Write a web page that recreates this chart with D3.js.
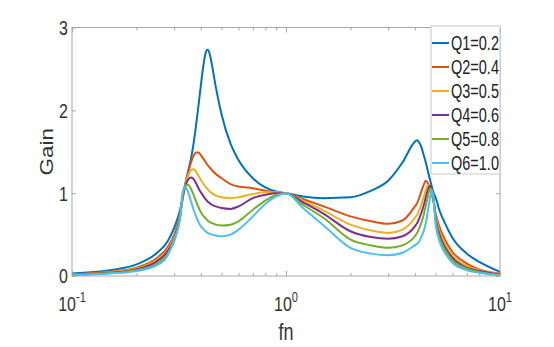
<!DOCTYPE html>
<html><head><meta charset="utf-8">
<script src="https://cdn.jsdelivr.net/npm/d3@7"></script>
<style>body{margin:0;background:#fff}text{font-family:"Liberation Sans",Arial,sans-serif}</style>
</head><body><svg id="c" width="554" height="347"></svg>
<script>
const fn = [0.1,0.15,0.2,0.25,0.28,0.3,0.32,0.33,0.34,0.35,0.36,0.37,0.38,0.39,0.4,0.41,0.42,0.43,0.44,0.45,0.47,0.5,0.55,0.6,0.7,0.8,0.9,1,1.2,1.5,2,2.5,3,3.5,4,4.1,4.2,4.3,4.4,4.5,4.6,4.7,4.8,4.9,5,5.2,5.5,6,7,8,10];
const q1 = [0.03,0.07,0.14,0.28,0.42,0.58,0.80,0.97,1.14,1.28,1.42,1.60,1.82,2.06,2.30,2.52,2.68,2.73,2.68,2.56,2.28,1.95,1.60,1.40,1.18,1.07,1.02,1.00,0.96,0.94,0.95,1.03,1.15,1.37,1.62,1.64,1.61,1.55,1.46,1.37,1.27,1.17,1.08,1.00,0.95,0.80,0.65,0.46,0.27,0.17,0.05];
const q2 = [0.02,0.05,0.10,0.22,0.35,0.50,0.75,0.95,1.12,1.26,1.37,1.45,1.49,1.49,1.46,1.42,1.38,1.34,1.31,1.28,1.23,1.18,1.11,1.08,1.06,1.03,1.01,1.00,0.93,0.84,0.72,0.66,0.63,0.67,0.84,0.88,0.95,1.03,1.10,1.15,1.12,1.05,0.98,0.88,0.76,0.60,0.45,0.29,0.15,0.08,0.03];
const q3 = [0.02,0.045,0.09,0.20,0.32,0.47,0.73,0.96,1.12,1.22,1.28,1.29,1.26,1.21,1.16,1.12,1.08,1.05,1.02,1.00,0.97,0.95,0.94,0.95,0.99,1.01,1.01,1.00,0.91,0.79,0.62,0.55,0.52,0.56,0.70,0.74,0.80,0.87,0.95,1.04,1.10,1.08,1.01,0.90,0.73,0.55,0.40,0.25,0.12,0.07,0.025];
const q4 = [0.015,0.04,0.08,0.18,0.30,0.45,0.72,0.98,1.10,1.17,1.19,1.17,1.12,1.06,1.01,0.97,0.93,0.90,0.88,0.86,0.84,0.82,0.81,0.84,0.94,0.98,1.00,1.00,0.89,0.75,0.54,0.47,0.45,0.48,0.60,0.64,0.70,0.77,0.85,0.95,1.04,1.09,1.04,0.91,0.70,0.51,0.36,0.22,0.10,0.06,0.02];
const q5 = [0.012,0.035,0.07,0.15,0.27,0.42,0.71,1.00,1.10,1.10,1.05,0.98,0.90,0.83,0.77,0.73,0.70,0.67,0.65,0.64,0.62,0.61,0.62,0.66,0.80,0.91,0.98,1.00,0.86,0.70,0.44,0.37,0.34,0.37,0.48,0.52,0.58,0.65,0.74,0.85,0.96,1.05,1.05,0.92,0.67,0.47,0.33,0.19,0.09,0.05,0.015];
const q6 = [0.01,0.03,0.06,0.13,0.25,0.44,0.70,1.03,1.07,1.00,0.90,0.80,0.72,0.65,0.60,0.57,0.54,0.52,0.51,0.50,0.49,0.48,0.50,0.56,0.72,0.87,0.96,1.00,0.82,0.61,0.34,0.27,0.25,0.28,0.37,0.39,0.42,0.48,0.54,0.64,0.78,0.93,1.03,0.93,0.63,0.43,0.29,0.16,0.07,0.04,0.01];
const seriesNames = ["Q1=0.2","Q2=0.4","Q3=0.5","Q4=0.6","Q5=0.8","Q6=1.0"];
const seriesValues = [q1,q2,q3,q4,q5,q6];
const colors = ["#0072BD","#D95319","#EDB120","#7E2F8E","#77AC30","#4DBEEE"];
const yTicks = [0,1,2,3];
const xTicks = [0.1,1,10];
const xTickExp = ["-1","0","1"];
const xMinor = [0.2,0.3,0.4,0.5,0.6,0.7,0.8,0.9,2,3,4,5,6,7,8,9];
const xLabel = "fn", yLabel = "Gain";

const svg = d3.select("#c");
const L=72, R=500, T=27.5, B=276;
const x = d3.scaleLog().domain([0.1,10]).range([L,R]);
const y = d3.scaleLinear().domain([0,3]).range([B,T]);
const axisCol = "#a8a8a8", txtCol = "#333";
const S = 1.3; // vertical text stretch

svg.append("defs").append("clipPath").attr("id","pc").append("rect")
  .attr("x",L).attr("y",T).attr("width",R-L).attr("height",B-T);

function styleAxis(g){ g.select(".domain").remove(); g.selectAll("line").attr("stroke",axisCol); g.selectAll("text").remove(); }
svg.append("g").attr("transform",`translate(0,${B})`).call(d3.axisBottom(x).tickValues(xTicks).tickSize(-5).tickFormat("")).call(styleAxis);
svg.append("g").attr("transform",`translate(0,${B})`).call(d3.axisBottom(x).tickValues(xMinor).tickSize(-3).tickFormat("")).call(styleAxis);
svg.append("g").attr("transform",`translate(0,${T})`).call(d3.axisTop(x).tickValues(xTicks).tickSize(-5).tickFormat("")).call(styleAxis);
svg.append("g").attr("transform",`translate(0,${T})`).call(d3.axisTop(x).tickValues(xMinor).tickSize(-3).tickFormat("")).call(styleAxis);
svg.append("g").attr("transform",`translate(${L},0)`).call(d3.axisLeft(y).tickValues(yTicks).tickSize(-4).tickFormat("")).call(styleAxis);
svg.append("g").attr("transform",`translate(${R},0)`).call(d3.axisRight(y).tickValues(yTicks).tickSize(-4).tickFormat("")).call(styleAxis);

const line = d3.line().x((d,i)=>x(fn[i])).y(d=>y(d)).curve(d3.curveMonotoneX);
const gl = svg.append("g").attr("clip-path","url(#pc)");
seriesValues.forEach((v,k)=>{
  gl.append("path").attr("d",line(v)).attr("fill","none").attr("stroke",colors[k]).attr("stroke-width",2).attr("stroke-linejoin","round");
});

svg.append("rect").attr("x",L).attr("y",T).attr("width",R-L).attr("height",B-T).attr("fill","none").attr("stroke",axisCol).attr("stroke-width",1);

yTicks.forEach(t=>{
  svg.append("text").attr("transform",`translate(${L-4},${y(t)+7.4}) scale(1,${S})`)
    .attr("text-anchor","end").attr("font-size",16).attr("fill",txtCol).text(t);
});
xTicks.forEach((t,i)=>{
  const tx = svg.append("text").attr("transform",`translate(${x(t)},${311}) scale(1,${S})`)
    .attr("text-anchor","middle").attr("font-size",16).attr("fill",txtCol);
  tx.append("tspan").text("10");
  tx.append("tspan").attr("font-size",11).attr("dy",-7).text(xTickExp[i]);
});
svg.append("text").attr("transform",`translate(${(L+R)/2},${340}) scale(1,${S})`)
  .attr("text-anchor","middle").attr("font-size",18).attr("fill",txtCol).text(xLabel);
svg.append("text").attr("transform",`translate(${53},${(T+B)/2}) rotate(-90) scale(1.25,1)`)
  .attr("text-anchor","middle").attr("font-size",18).attr("fill",txtCol).text(yLabel);

const lgX=431, lgY=26, lgW=69, lgH=148, rowH=24;
const lg = svg.append("g");
lg.append("rect").attr("x",lgX).attr("y",lgY).attr("width",lgW).attr("height",lgH).attr("fill","#fff").attr("stroke","#c8c8c8").attr("stroke-width",1);
seriesNames.forEach((n,k)=>{
  const cy = lgY+17+k*rowH;
  lg.append("line").attr("x1",lgX+1).attr("x2",lgX+18).attr("y1",cy).attr("y2",cy).attr("stroke",colors[k]).attr("stroke-width",2);
  lg.append("text").attr("transform",`translate(${lgX+20},${cy+6.8}) scale(1,1.35)`)
    .attr("font-size",14.5).attr("fill","#222").text(n);
});
</script></body></html>
